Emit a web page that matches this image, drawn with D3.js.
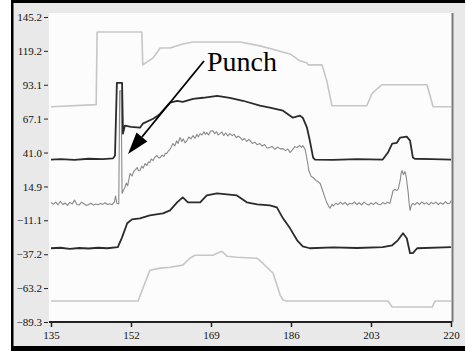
<!DOCTYPE html>
<html>
<head>
<meta charset="utf-8">
<script src="https://cdn.jsdelivr.net/npm/d3@7"></script>
<style>
  body { margin: 0; background: #fff; }
  svg { display: block; }
</style>
</head>
<body>
<script>
var w = 465, h = 351;

// tick labels
var xTicks = [135, 152, 169, 186, 203, 220];
var yTicks = [145.2, 119.2, 93.1, 67.1, 41.0, 14.9, -11.1, -37.2, -63.2, -89.3];

// series, [time, value]
var lightTop = [[135,76.2],[144.6,77.8],[144.8,133.7],[154.3,133.7],[154.5,108.4],[156.7,113.8],[158.2,121.4],[160.3,121.4],[163,124.5],[165.2,126],[175.2,126],[179.4,123],[185.8,116.8],[187.9,111.5],[189.4,109.9],[189.6,108.4],[192.6,108.4],[193.6,96.1],[194.7,77],[202.1,77],[203.2,86.2],[204.3,90],[205.3,93.1],[214.9,93.1],[216.2,76.2],[220,76.2]];

var darkTop = [[135,35.6],[137,35.9],[140,35.3],[143,36.2],[146,36.0],[148.2,36.5],[148.6,38.7],[149.0,94.6],[150.1,94.6],[150.3,55.5],[150.7,61.7],[152,60.8],[153.9,60.1],[154.5,63.2],[156.7,67],[157.7,69.3],[158.2,70.9],[160.3,79.3],[161.8,80.8],[163,80],[165.2,82.3],[167.3,83.1],[170.3,84.6],[173,83.1],[175.8,80.8],[179.4,77],[181.5,75.5],[184.3,73.2],[186.4,67.8],[187.9,69.3],[188.5,67.8],[189.4,60.1],[190,50.2],[190.7,37.1],[191.1,35.6],[195,35.3],[200,36.0],[205.5,35.6],[206.6,41],[207.5,47.9],[208.5,48.5],[209.2,52.5],[210.6,53.2],[211.3,50.2],[211.9,37.1],[212.3,36.2],[216,35.9],[220,35.6]];

var grayMid = [[135,2.7],[135.5,1.2],[136,2.9],[136.5,0.8],[137,3.5],[137.5,1.0],[138,2.2],[138.5,0.4],[139,2.6],[139.5,1.5],[140,4.4],[140.5,1.0],[141,0.7],[141.5,2.8],[142,1.6],[142.5,0.3],[143,1.0],[143.5,2.0],[144,0.6],[144.5,1.4],[145,0.8],[145.5,1.9],[146,1.1],[146.5,2.4],[147,1.0],[147.5,1.6],[148,0.9],[148.5,3.2],[148.7,7.5],[149.0,2.0],[149.4,1.5],[149.6,88.5],[149.9,88.5],[150.1,9.6],[150.4,12.0],[150.7,14.1],[151.0,17.5],[151.3,15.5],[151.8,24.9],[152.2,23.0],[152.6,26.5],[153.0,28.0],[153.3,29.5],[153.6,27.0],[153.9,27.2],[154.3,30.5],[154.6,29.0],[155.0,32.5],[155.4,31.0],[155.7,33.8],[156.0,33.3],[156.3,36.0],[156.7,34.8],[157.1,37.5],[157.5,38.7],[157.9,36.8],[158.2,37.1],[158.6,39.0],[159.0,38.0],[159.3,40.5],[159.6,40.2],[160.0,42.5],[160.4,44.0],[160.9,47.9],[161.3,46.0],[161.7,50.0],[162.0,48.0],[162.4,52.5],[162.8,49.5],[163.1,51.5],[163.5,48.5],[163.9,50.2],[164.3,53.0],[164.7,51.5],[165.2,54.0],[165.6,52.0],[166.0,55.0],[166.3,53.0],[166.7,55.5],[167.1,54.5],[167.5,57.0],[167.8,55.0],[168.1,56.3],[168.5,54.5],[168.9,57.5],[169.4,57.8],[169.8,55.5],[170.2,57.0],[170.5,54.5],[170.9,55.5],[171.3,56.8],[171.7,54.0],[172.1,56.0],[172.6,53.8],[173.0,55.5],[173.5,54.0],[173.9,55.0],[174.4,52.5],[174.8,53.5],[175.2,52.5],[175.7,50.5],[176.1,51.8],[176.6,49.5],[177.0,51.0],[177.3,50.2],[177.8,48.0],[178.3,49.0],[178.8,47.0],[179.4,47.9],[179.9,46.0],[180.4,47.2],[180.9,44.5],[181.5,44.8],[182.0,45.8],[182.6,43.5],[183.1,45.2],[183.7,43.8],[184.3,44.0],[184.8,42.5],[185.3,43.8],[185.8,41.0],[186.3,43.0],[186.8,45.5],[187.3,44.8],[187.8,46.5],[188.2,45.0],[188.5,46.3],[189.0,43.5],[189.4,36.0],[189.8,27.0],[190.3,22.5],[190.7,21.8],[191.3,19.5],[191.8,18.5],[192.2,17.2],[192.7,12.0],[193.2,6.5],[193.6,2.5],[193.9,0.4],[194.3,-1.9],[194.7,1.2],[195.0,0.0],[195.5,2.0],[196,1.0],[196.5,2.8],[197,1.2],[197.5,2.6],[198,0.5],[198.5,2.0],[199,1.4],[199.5,3.0],[200,1.0],[200.5,2.4],[201,0.8],[201.5,2.9],[202,1.5],[202.5,0.6],[203,2.2],[203.5,1.0],[204,2.7],[204.5,1.2],[205,0.8],[205.5,2.5],[206,1.5],[206.5,2.8],[207.0,1.9],[207.3,6.0],[207.7,11.8],[208.1,12.5],[208.5,11.8],[208.8,13.0],[209.2,19.5],[209.4,25.0],[209.6,27.2],[209.9,24.0],[210.2,26.5],[210.5,22.0],[210.9,10.3],[211.1,2.0],[211.3,-3.5],[211.6,0.5],[211.9,1.9],[212.3,0.8],[212.8,2.6],[213.3,1.0],[213.8,3.0],[214.3,1.4],[214.8,2.5],[215.3,0.8],[215.8,2.7],[216.3,1.5],[216.8,2.9],[217.3,1.0],[217.8,2.4],[218.3,1.2],[218.8,3.2],[219.3,1.6],[219.8,2.2],[220,4.0]];

var darkLow = [[135,-32.6],[137,-32.2],[139,-33.0],[141,-32.4],[143,-32.8],[145,-32.2],[147,-32.6],[149.2,-31.8],[150.1,-24.2],[151.2,-13.4],[152.2,-10.4],[153.9,-9.6],[156,-7.3],[158.8,-5.8],[160.3,-3.5],[161.8,2.7],[163.0,6.5],[164.1,2.7],[165.2,2.7],[166.7,2.7],[168.1,8.0],[170.3,9.6],[172.4,8.8],[174.5,8.0],[176.6,2.7],[178.8,1.1],[181.5,0.4],[183.0,-1.2],[184.3,-9.6],[185.8,-17.3],[187.3,-26.5],[188.5,-31.1],[190.0,-32.6],[195,-32.0],[200,-32.4],[205.5,-31.8],[207.5,-30.3],[208.7,-26.5],[209.8,-21.1],[210.6,-24.9],[211.3,-36.4],[211.9,-36.4],[212.8,-32.6],[220,-31.8]];

var lightLow = [[135,-73.2],[153.5,-73.2],[156.0,-49.5],[158.2,-47.9],[160.3,-47.2],[163.0,-45.6],[164.5,-40.3],[165.6,-38.0],[169.4,-38.0],[171.3,-34.9],[172.4,-38.7],[174.5,-39.5],[178.8,-40.3],[180.0,-44.1],[182.2,-51.8],[183.0,-60.9],[183.7,-68.6],[184.3,-72.4],[185,-73.2],[206.6,-73.2],[207.5,-77.8],[216.0,-77.8],[216.6,-73.2],[220,-73.2]];

var svg = d3.select("body").append("svg")
    .attr("width", w)
    .attr("height", h);

// window frame
svg.append("rect").attr("width", w).attr("height", h).style("fill", "#fff");
svg.append("rect").attr("x", 11).attr("y", 0).attr("width", w - 11).attr("height", h).style("fill", "#e9e9e9");
svg.append("rect").attr("x", 11).attr("y", 0).attr("width", w - 11).attr("height", 3).style("fill", "#000");
svg.append("rect").attr("x", 11).attr("y", 0).attr("width", 2.5).attr("height", h).style("fill", "#000");
svg.append("rect").attr("x", 11).attr("y", 346).attr("width", w - 11).attr("height", 5).style("fill", "#000");

// plot area
svg.append("rect").attr("x", 49).attr("y", 13).attr("width", 403).attr("height", 309).style("fill", "#fcfcfc");
svg.append("line").attr("x1", 452.5).attr("x2", 452.5).attr("y1", 13).attr("y2", 322)
    .style("stroke", "#7a7a7a").style("stroke-width", 2);

var x = d3.scaleLinear().domain([135, 220]).range([51, 451]);
var y = d3.scaleLinear().domain([-89.3, 145.2]).range([322, 17]);

// x axis
var xAxis = d3.axisBottom(x).tickValues(xTicks).tickSize(5).tickPadding(4).tickSizeOuter(0)
    .tickFormat(d3.format("d"));
var gx = svg.append("g").attr("transform", "translate(0,322)").call(xAxis);
gx.select(".domain").attr("d", "M49,0H452").style("stroke", "#222").style("stroke-width", 2);
gx.selectAll(".tick line").style("stroke", "#222").style("stroke-width", 1.5);
gx.selectAll("text").style("font-family", "'Liberation Serif', serif").style("font-size", "11px").style("fill", "#111");

// y axis, label with a dash tick
var yAxis = d3.axisLeft(y).tickValues(yTicks).tickSize(4).tickPadding(2).tickSizeOuter(0)
    .tickFormat(d3.format(".1f"));
var gy = svg.append("g").attr("transform", "translate(48,0)").call(yAxis);
gy.select(".domain").remove();
gy.selectAll(".tick line").style("stroke", "#222");
gy.selectAll("text").style("font-family", "'Liberation Serif', serif").style("font-size", "11px").style("fill", "#111");

var line = d3.line()
    .x(function(d){ return x(d[0]); })
    .y(function(d){ return y(d[1]); });

var series = [
    {data: lightTop, color: "#c6c6c6", width: 1.6},
    {data: lightLow, color: "#c6c6c6", width: 1.6},
    {data: grayMid, color: "#8a8a8a", width: 1.1},
    {data: darkTop, color: "#2b2b2b", width: 1.8},
    {data: darkLow, color: "#2b2b2b", width: 1.8}
];

svg.selectAll("path.series")
    .data(series)
    .enter()
    .append("path")
    .attr("class", "series")
    .attr("d", function(d){ return line(d.data); })
    .style("fill", "none")
    .style("stroke", function(d){ return d.color; })
    .style("stroke-width", function(d){ return d.width; })
    .style("stroke-linejoin", "round");

// annotation
svg.append("text")
    .attr("x", 207).attr("y", 71)
    .style("font-family", "'Liberation Serif', 'Times New Roman', serif")
    .style("font-size", "28px")
    .style("fill", "#000")
    .text("Punch");

var tip = [128, 154], tail = [204, 61];
var dx = tip[0] - tail[0], dy = tip[1] - tail[1];
var len = Math.sqrt(dx*dx + dy*dy);
var ux = dx/len, uy = dy/len;
var headL = 22, headW = 7;
var bx = tip[0] - ux*headL, by = tip[1] - uy*headL;
svg.append("line")
    .attr("x1", tail[0]).attr("y1", tail[1]).attr("x2", bx).attr("y2", by)
    .style("stroke", "#000").style("stroke-width", 1.8);
svg.append("path")
    .attr("d", "M" + tip[0] + "," + tip[1] +
        "L" + (bx - uy*headW) + "," + (by + ux*headW) +
        "L" + (bx + uy*headW) + "," + (by - ux*headW) + "Z")
    .style("fill", "#000");
</script>
</body>
</html>
